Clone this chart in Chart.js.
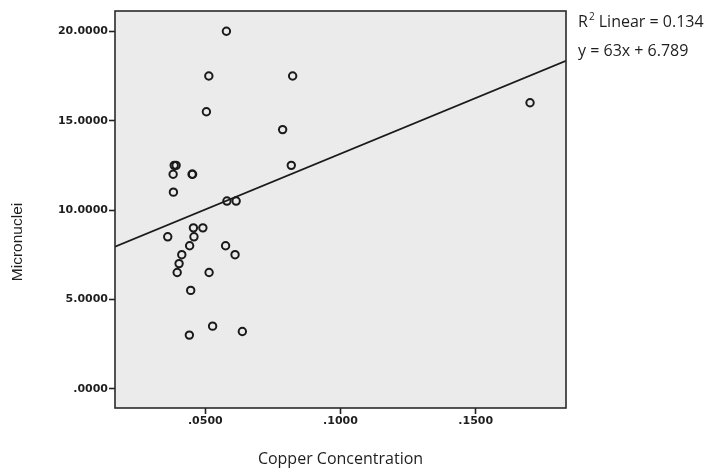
<!DOCTYPE html>
<html>
<head>
<meta charset="utf-8">
<script src="https://cdn.jsdelivr.net/npm/chart.js@4"></script>
<style>
  html, body { margin:0; padding:0; background:#fff; }
  #wrap { width:705px; height:471px; }
</style>
</head>
<body>
<div id="wrap"><canvas id="scatter" width="705" height="471"></canvas></div>
<script>
// Data
const copperConc = [0.0578, 0.0513, 0.0823, 0.0504, 0.0786, 0.0385, 0.0392, 0.0818, 0.0381, 0.0451,
  0.0453, 0.0382, 0.0580, 0.0614, 0.0456, 0.0491, 0.0361, 0.0458, 0.0442, 0.0575,
  0.0413, 0.0610, 0.0403, 0.0396, 0.0514, 0.0446, 0.0527, 0.0441, 0.0637, 0.1701];
const micronuclei = [20.0, 17.5, 17.5, 15.5, 14.5, 12.5, 12.5, 12.5, 12.0, 12.0,
  12.0, 11.0, 10.5, 10.5, 9.0, 9.0, 8.5, 8.5, 8.0, 8.0,
  7.5, 7.5, 7.0, 6.5, 6.5, 5.5, 3.5, 3.0, 3.2, 16.0];

// fit line ends, at the plot edges
const fitX = [0.0166, 0.1834];
const fitY = [7.95, 18.35];

const xTicks = [0.05, 0.10, 0.15];
const yTicks = [0, 5, 10, 15, 20];

const fitLabel = 'Linear = 0.134';
const fitEquation = 'y = 63x + 6.789';

function fmt(v){
  return v.toFixed(4).replace(/^0\./, '.');
}

const points = copperConc.map((x, i) => ({ x, y: micronuclei[i] }));
const fitPoints = fitX.map((x, i) => ({ x, y: fitY[i] }));

const tickFont = { family: 'DejaVu Sans', size: 11, weight: 'bold' };

// grey panel, frame and outside texts
const panelPlugin = {
  id: 'panel',
  beforeDatasetsDraw(chart){
    const a = chart.chartArea, ctx = chart.ctx;
    ctx.save();
    ctx.fillStyle = '#ebebeb';
    ctx.fillRect(a.left, a.top, a.right - a.left, a.bottom - a.top);
    ctx.restore();
  },
  afterDraw(chart){
    const a = chart.chartArea, ctx = chart.ctx;
    ctx.save();
    ctx.strokeStyle = '#2a2a2a';
    ctx.lineWidth = 1.6;
    ctx.strokeRect(a.left, a.top, a.right - a.left, a.bottom - a.top);

    // y title
    ctx.fillStyle = '#1e1e1e';
    ctx.font = '15.5px "Liberation Sans"';
    ctx.textAlign = 'center';
    ctx.textBaseline = 'middle';
    ctx.translate(18, 242);
    ctx.rotate(-Math.PI / 2);
    ctx.fillText('Micronuclei', 0, 0);
    ctx.restore();

    // R2 note
    ctx.save();
    ctx.fillStyle = '#1e1e1e';
    ctx.textAlign = 'left';
    ctx.textBaseline = 'alphabetic';
    ctx.font = '16px "Open Sans"';
    ctx.fillText('R', 578, 27);
    const rw = ctx.measureText('R').width;
    ctx.font = '10px "Open Sans"';
    ctx.fillText('2', 578 + rw + 1, 20);
    const sw = ctx.measureText('2').width;
    ctx.font = '16px "Open Sans"';
    ctx.fillText(' ' + fitLabel, 578 + rw + sw + 1, 27);
    ctx.fillText(fitEquation, 578, 56);
    ctx.restore();
  }
};

new Chart(document.getElementById('scatter'), {
  type: 'scatter',
  data: {
    datasets: [
      {
        label: 'Observed',
        data: points,
        pointStyle: 'circle',
        pointRadius: 3.7,
        pointBorderWidth: 2,
        pointBorderColor: '#1a1a1a',
        pointBackgroundColor: 'rgba(0,0,0,0)'
      },
      {
        label: 'Fit',
        type: 'line',
        data: fitPoints,
        borderColor: '#1a1a1a',
        borderWidth: 1.8,
        pointRadius: 0,
        fill: false
      }
    ]
  },
  options: {
    responsive: false,
    animation: false,
    events: [],
    layout: { padding: { top: 11, right: 139, left: 0, bottom: 0 } },
    plugins: {
      legend: { display: false },
      tooltip: { enabled: false }
    },
    scales: {
      x: {
        type: 'linear',
        min: 0.0166,
        max: 0.1834,
        afterFit(scale){ scale.height = 63; },
        afterBuildTicks(scale){ scale.ticks = xTicks.map(v => ({ value: v })); },
        border: { display: false },
        grid: { drawOnChartArea: false, drawTicks: true, tickLength: 6, tickColor: '#222', tickWidth: 1.6 },
        ticks: { font: tickFont, color: '#1e1e1e', padding: 1, maxRotation: 0, callback: v => fmt(v) },
        title: {
          display: true,
          text: 'Copper Concentration',
          color: '#1e1e1e',
          font: { family: 'Open Sans', size: 16 },
          padding: { top: 0, bottom: 2 }
        }
      },
      y: {
        type: 'linear',
        min: -1.08,
        max: 21.136,
        afterFit(scale){ scale.width = 115; },
        afterBuildTicks(scale){ scale.ticks = yTicks.map(v => ({ value: v })); },
        border: { display: false },
        grid: { drawOnChartArea: false, drawTicks: true, tickLength: 6, tickColor: '#222', tickWidth: 1.6 },
        ticks: { font: tickFont, color: '#1e1e1e', padding: 1, callback: v => fmt(v) }
      }
    }
  },
  plugins: [panelPlugin]
});
</script>
</body>
</html>
